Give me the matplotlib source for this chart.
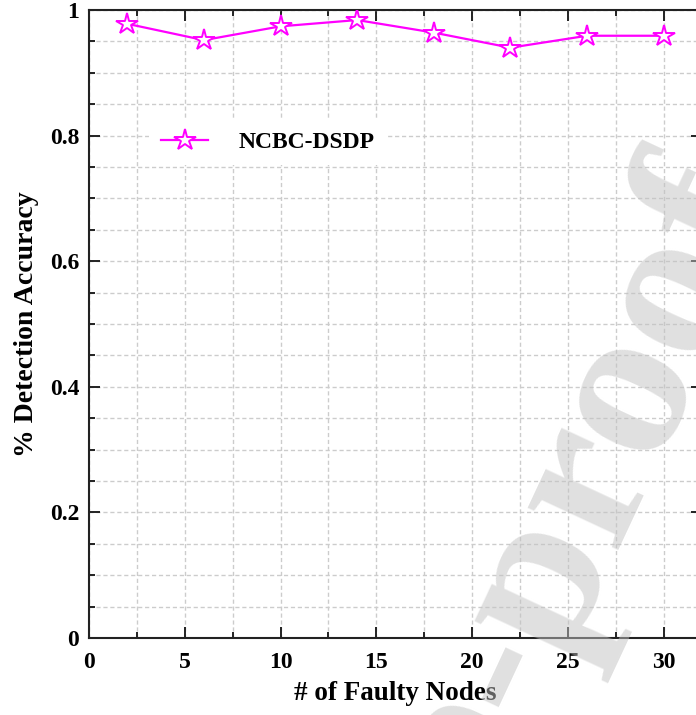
import numpy as np
import matplotlib
matplotlib.use("Agg")
import matplotlib.pyplot as plt
from matplotlib.ticker import MultipleLocator

# data
faulty_nodes = [2, 6, 10, 14, 18, 22, 26, 30]
accuracy = [0.978, 0.952, 0.974, 0.984, 0.964, 0.940, 0.959, 0.959]
series_name = "NCBC-DSDP"

plt.rcParams['font.family'] = ['Liberation Serif', 'DejaVu Serif']
plt.rcParams['font.weight'] = 'bold'

fig = plt.figure(figsize=(6.96, 7.15), dpi=100)
ax = fig.add_axes([89/696, 77/715, 613/696, 628/715])

ax.plot(faulty_nodes, accuracy, color='#ff00ff', lw=1.6, marker='*',
        ms=16, mfc='white', mec='#ff00ff', mew=1.4, label=series_name, zorder=3)

ax.set_xlim(0, 32)
ax.set_ylim(0, 1)
ax.xaxis.set_major_locator(MultipleLocator(5))
ax.xaxis.set_minor_locator(MultipleLocator(2.5))
ax.yaxis.set_major_locator(MultipleLocator(0.2))
ax.yaxis.set_minor_locator(MultipleLocator(0.05))
ax.set_yticks([0, 0.2, 0.4, 0.6, 0.8, 1.0])
ax.set_yticklabels(['0', '0.2', '0.4', '0.6', '0.8', '1'])

ax.grid(True, which='both', color='#cccccc', ls=(0, (3, 2)), lw=1.0, zorder=0)
ax.set_axisbelow(True)

ax.tick_params(which='both', direction='in', top=True, right=True,
               labelsize=17, width=1.4, color='#222222')
ax.tick_params(which='major', length=8)
ax.tick_params(which='minor', length=4)
ax.tick_params(axis='x', pad=10)
ax.tick_params(axis='y', pad=7)
for s in ax.spines.values():
    s.set_linewidth(1.5)
    s.set_color('#222222')

ax.set_xlabel('# of Faulty Nodes', fontsize=19.5, fontweight='bold', labelpad=6)
ax.set_ylabel('% Detection Accuracy', fontsize=20, fontweight='bold', labelpad=8)

leg = ax.legend(loc='center', bbox_to_anchor=(0.292, 0.789), fontsize=17,
                frameon=True, fancybox=False, edgecolor='none', facecolor='white',
                framealpha=1, handlelength=2.0, handletextpad=1.3, borderpad=0.5)
for t in leg.get_texts():
    t.set_fontweight('bold')

# watermark of the source page
fig.text(1.121, 0.713, 'Journal Pre-proof', fontsize=158, fontweight='bold',
         family='Liberation Serif', color=(0.76, 0.76, 0.76), alpha=0.5,
         rotation=65, rotation_mode='anchor', ha='right', va='baseline', zorder=10)

fig.savefig('out.png', dpi=100)
